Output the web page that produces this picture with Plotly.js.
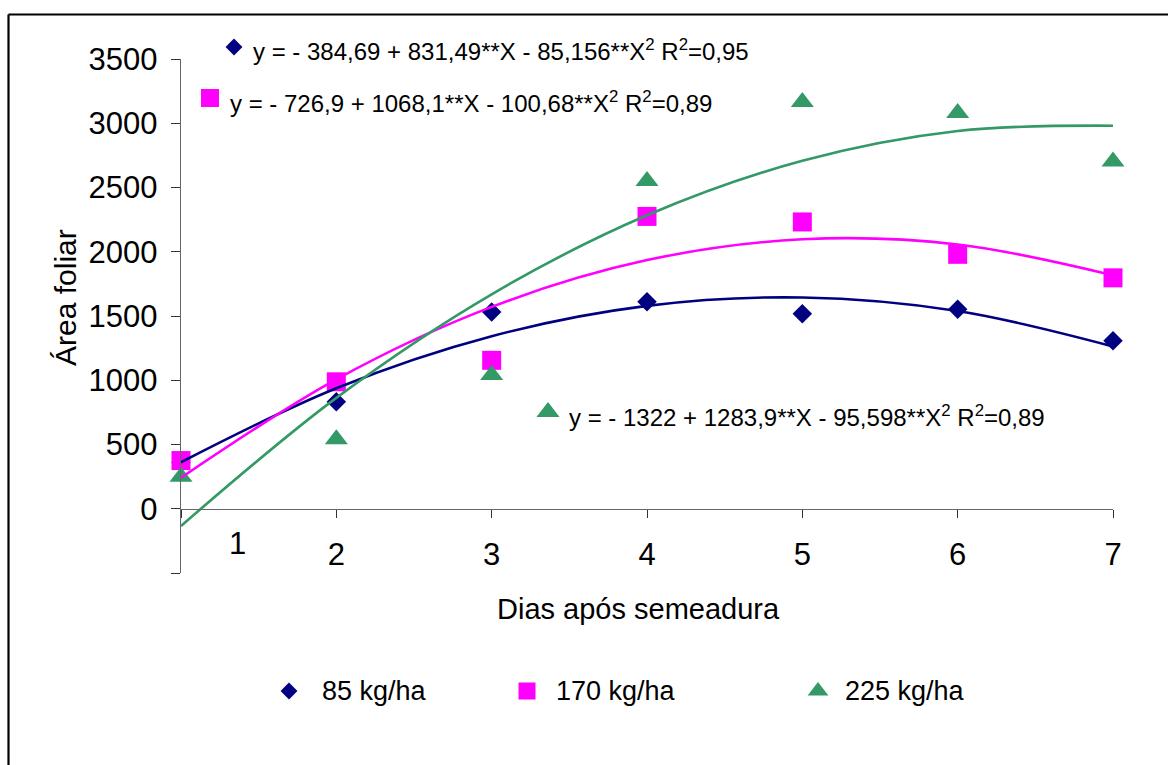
<!DOCTYPE html>
<html><head><meta charset="utf-8">
<script src="https://cdn.plot.ly/plotly-3.0.1.min.js"></script>
<style>html,body{margin:0;padding:0;background:#fff;} #chart{width:1168px;height:765px;}</style>
</head><body><div id="chart"></div>
<script>
// ---------- data ----------
const days = [1, 2, 3, 4, 5, 6, 7];
const seriesNames = ['85 kg/ha', '170 kg/ha', '225 kg/ha'];
const area85  = [360, 832, 1532, 1610, 1517, 1552, 1307];
const area170 = [375, 988, 1155, 2275, 2232, 1980, 1797];
const area225 = [250, 540, 1040, 2551, 3166, 3080, 2703];
// trendline values read at each day
const trend85  = [362, 938, 1343, 1579, 1644, 1539, 1263];
const trend170 = [241, 1007, 1571, 1935, 2097, 2057, 1817];
const trend225 = [-134, 863, 1669, 2284, 2708, 2940, 2981];
const equations = [
  'y = - 384,69 + 831,49**X - 85,156**X<sup>2</sup> R<sup>2</sup>=0,95',
  'y = - 726,9 + 1068,1**X - 100,68**X<sup>2</sup> R<sup>2</sup>=0,89',
  'y = - 1322 + 1283,9**X - 95,598**X<sup>2</sup> R<sup>2</sup>=0,89'
];
const yTickVals = [-500, 0, 500, 1000, 1500, 2000, 2500, 3000, 3500];
const yTickText = ['', '0', '500', '1000', '1500', '2000', '2500', '3000', '3500'];
const xTickVals = [1, 2, 3, 4, 5, 6, 7];
const xTickText = ['', '2', '3', '4', '5', '6', '7'];
const xFirstLabel = '1';
const xTitle = 'Dias após semeadura';
const yTitle = 'Área foliar';

// ---------- layout helpers ----------
const W = 1168, H = 765;
const PL = 181, PR = 1113, PT = 59, PB = 573;   // plot box in pixels
const px = x => x / W;             // pixel x -> paper
const py = y => 1 - y / H;         // pixel y -> paper
const FONT = '"Liberation Sans", Arial, sans-serif';
const colors = ['#000080', '#FF00FF', '#339966'];
const symbols = ['diamond', 'square', 'triangle-up'];
const sizes = [15, 19, 20];
const areas = [area85, area170, area225];
const trends = [trend85, trend170, trend225];

// positions (pixels) of the equation keys and legend keys
const eqKeyPos = [[234, 47], [210, 98], [548, 412]];
const eqTextPos = [[251, 50], [228, 102], [567, 416]];
const eqKeySize = [13, 18, 20];
const legKeyPos = [[289, 691], [527, 691], [818, 691]];
const legTextPos = [[320, 691], [554, 691], [843, 691]];
const legKeySymbol = ['diamond', 'square', 'triangle-up'];
const legKeySize = [13, 17, 18];

const traces = [];
for (let i = 0; i < 3; i++) {
  traces.push({
    x: days, y: areas[i], type: 'scatter', mode: 'markers', name: seriesNames[i],
    marker: {symbol: symbols[i], size: sizes[i], color: colors[i], line: {width: 0}},
    cliponaxis: false, showlegend: false, hoverinfo: 'skip'
  });
}
for (let i = 0; i < 3; i++) {
  traces.push({
    x: days, y: trends[i], type: 'scatter', mode: 'lines',
    line: {color: colors[i], width: 2.6, shape: 'spline', smoothing: 1},
    showlegend: false, hoverinfo: 'skip', cliponaxis: true
  });
}
// key markers on a full-page pixel axis pair
for (let i = 0; i < 3; i++) {
  traces.push({
    x: [eqKeyPos[i][0], legKeyPos[i][0]], y: [eqKeyPos[i][1], legKeyPos[i][1]],
    xaxis: 'x2', yaxis: 'y2', type: 'scatter', mode: 'markers',
    marker: {symbol: [symbols[i], legKeySymbol[i]], size: [eqKeySize[i], legKeySize[i]], color: colors[i], opacity: 1, line: {width: 0}},
    cliponaxis: false, showlegend: false, hoverinfo: 'skip'
  });
}

const annotations = [];
for (let i = 0; i < 3; i++) {
  annotations.push({
    xref: 'paper', yref: 'paper', x: px(eqTextPos[i][0]), y: py(eqTextPos[i][1]),
    xanchor: 'left', yanchor: 'middle', text: equations[i], showarrow: false,
    font: {family: FONT, size: 24, color: '#000'}
  });
  annotations.push({
    xref: 'paper', yref: 'paper', x: px(legTextPos[i][0]), y: py(legTextPos[i][1]),
    xanchor: 'left', yanchor: 'middle', text: seriesNames[i], showarrow: false,
    font: {family: FONT, size: 27, color: '#000'}
  });
}
annotations.push({
  xref: 'paper', yref: 'paper', x: px(237), y: py(543), xanchor: 'center', yanchor: 'middle',
  text: xFirstLabel, showarrow: false, font: {family: FONT, size: 31, color: '#000'}
});
annotations.push({
  xref: 'paper', yref: 'paper', x: px(638), y: py(609), xanchor: 'center', yanchor: 'middle',
  text: xTitle, showarrow: false, font: {family: FONT, size: 29, color: '#000'}
});
annotations.push({
  xref: 'paper', yref: 'paper', x: px(66), y: py(298), xanchor: 'center', yanchor: 'middle',
  text: yTitle, textangle: -90, showarrow: false, font: {family: FONT, size: 30, color: '#000'}
});

const yDom = [py(PB), py(PT)];
const zeroPos = yDom[0] + 0.125 * (yDom[1] - yDom[0]);

const layout = {
  width: W, height: H,
  margin: {l: 0, r: 0, t: 0, b: 0, pad: 0},
  paper_bgcolor: '#fff', plot_bgcolor: 'rgba(0,0,0,0)',
  font: {family: FONT, color: '#000'},
  showlegend: false,
  xaxis: {
    domain: [px(PL), px(PR)], range: [1, 7], anchor: 'free', position: zeroPos,
    showgrid: false, zeroline: false, showline: true, linecolor: '#666', linewidth: 1.3,
    ticks: 'outside', ticklen: 8, tickcolor: '#333', tickwidth: 1,
    tickvals: xTickVals, ticktext: xTickText, ticklabelstandoff: 10,
    tickfont: {family: FONT, size: 31, color: '#000'}, fixedrange: true
  },
  yaxis: {
    domain: yDom, range: [-500, 3500], anchor: 'x',
    showgrid: false, zeroline: false, showline: true, linecolor: '#666', linewidth: 1.3,
    ticks: 'outside', ticklen: 9, tickcolor: '#333', tickwidth: 1,
    tickvals: yTickVals, ticktext: yTickText, ticklabelstandoff: 7,
    tickfont: {family: FONT, size: 31, color: '#000'}, fixedrange: true
  },
  xaxis2: {domain: [0, 1], range: [0, W], visible: false, anchor: 'y2', fixedrange: true},
  yaxis2: {domain: [0, 1], range: [H, 0], visible: false, anchor: 'x2', fixedrange: true},
  annotations: annotations,
  shapes: [
    {type: 'line', xref: 'paper', yref: 'paper', x0: px(8.5), x1: px(1200), y0: py(14.5), y1: py(14.5), line: {color: '#000', width: 2.2}},
    {type: 'line', xref: 'paper', yref: 'paper', x0: px(8.5), x1: px(8.5), y0: py(14.5), y1: py(800), line: {color: '#000', width: 2.2}}
  ]
};

Plotly.newPlot('chart', traces, layout, {displayModeBar: false, staticPlot: true});
</script>
</body></html>
